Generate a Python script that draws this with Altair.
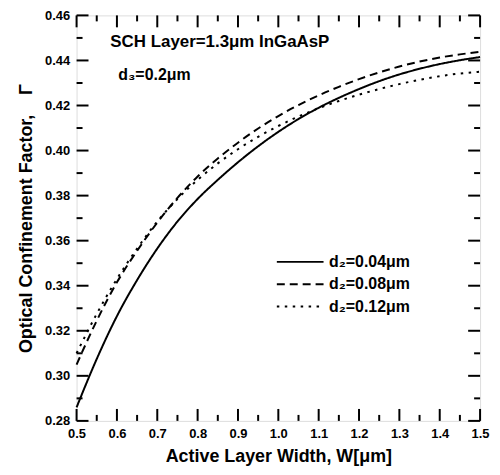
import altair as alt
import pandas as pd

# ---- data ----
W = [0.50, 0.55, 0.60, 0.65, 0.70, 0.75, 0.80, 0.85, 0.90, 0.95, 1.00,
     1.05, 1.10, 1.15, 1.20, 1.25, 1.30, 1.35, 1.40, 1.45, 1.50]
gamma_d2_004 = [0.286, 0.3075, 0.3265, 0.3425, 0.3565, 0.3685, 0.3785, 0.3870, 0.3948, 0.4019, 0.4083,
                0.4140, 0.4190, 0.4234, 0.4273, 0.4308, 0.4338, 0.4363, 0.4384, 0.4401, 0.4415]
gamma_d2_008 = [0.305, 0.3245, 0.3415, 0.3555, 0.3680, 0.3790, 0.3885, 0.3965, 0.4035, 0.4098, 0.4153,
                0.4202, 0.4245, 0.4283, 0.4317, 0.4347, 0.4373, 0.4395, 0.4413, 0.4427, 0.4438]
gamma_d2_012 = [0.310, 0.3275, 0.3430, 0.3565, 0.3685, 0.3785, 0.3870, 0.3943, 0.4006, 0.4061, 0.4109,
                0.4151, 0.4188, 0.4220, 0.4248, 0.4273, 0.4295, 0.4314, 0.4330, 0.4342, 0.4350]
series_labels = ["d\u2082=0.04\u03bcm", "d\u2082=0.08\u03bcm", "d\u2082=0.12\u03bcm"]
series_dashes = [[1, 0], [8, 5], [2.5, 5.5]]

x_major = [0.5, 0.6, 0.7, 0.8, 0.9, 1.0, 1.1, 1.2, 1.3, 1.4, 1.5]
x_minor = [0.55, 0.65, 0.75, 0.85, 0.95, 1.05, 1.15, 1.25, 1.35, 1.45]
y_major = [0.28, 0.30, 0.32, 0.34, 0.36, 0.38, 0.40, 0.42, 0.44, 0.46]
y_minor = [0.29, 0.31, 0.33, 0.35, 0.37, 0.39, 0.41, 0.43, 0.45]

annot_1 = "SCH Layer=1.3\u03bcm InGaAsP"
annot_2 = "d\u2083=0.2\u03bcm"

FONT = "Liberation Sans"
PW, PH = 406, 408

rows = []
for lab, vals in zip(series_labels, [gamma_d2_004, gamma_d2_008, gamma_d2_012]):
    for w, g in zip(W, vals):
        rows.append({"W": w, "G": g, "series": lab})
df = pd.DataFrame(rows)

xs = alt.Scale(domain=[0.5, 1.5], nice=False, zero=False)
ys = alt.Scale(domain=[0.28, 0.46], nice=False, zero=False)

lines = alt.Chart(df).mark_line(color="black", strokeWidth=2, interpolate="monotone").encode(
    x=alt.X("W:Q", scale=xs,
            axis=alt.Axis(values=x_major, format=".1f", tickSize=0, domain=False, grid=False,
                          labelFont=FONT, labelFontWeight="bold", labelFontSize=13,
                          labelColor="black", labelPadding=7, labelFlush=False,
                          title="Active Layer Width, W[\u03bcm]", titleFont=FONT,
                          titleFontSize=18, titleFontWeight="bold", titleColor="black",
                          titlePadding=7)),
    y=alt.Y("G:Q", scale=ys,
            axis=alt.Axis(values=y_major, format=".2f", tickSize=0, domain=False, grid=False,
                          labelFont=FONT, labelFontWeight="bold", labelFontSize=13,
                          labelColor="black", labelPadding=7, labelFlush=False,
                          title="Optical Confinement Factor,\u00a0\u00a0\u00a0\u00a0\u0393",
                          titleFont=FONT, titleFontSize=18, titleFontWeight="bold",
                          titleColor="black", titlePadding=9)),
    strokeDash=alt.StrokeDash(
        "series:N",
        scale=alt.Scale(domain=series_labels, range=series_dashes),
        sort=series_labels,
        legend=alt.Legend(orient="none", legendX=214, legendY=237, title=None, padding=0,
                          symbolType="M-2.35,0H2.35", symbolSize=400, symbolStrokeWidth=2,
                          symbolStrokeColor="black", labelOffset=18,
                          labelFont=FONT, labelFontSize=16, labelFontWeight="bold",
                          labelColor="black", rowPadding=3.5)),
)

def xticks(vals, length):
    d = pd.DataFrame({"v": vals})
    bottom = alt.Chart(d).mark_tick(color="black", thickness=2, size=length, orient="vertical",
                                    opacity=1).encode(
        x=alt.X("v:Q", scale=xs), y=alt.value(PH - length / 2))
    top = alt.Chart(d).mark_tick(color="black", thickness=2, size=length, orient="vertical",
                                 opacity=1).encode(
        x=alt.X("v:Q", scale=xs), y=alt.value(length / 2))
    return [bottom, top]

def yticks(vals, length):
    d = pd.DataFrame({"v": vals})
    left = alt.Chart(d).mark_tick(color="black", thickness=2, size=length, orient="horizontal",
                                  opacity=1).encode(
        y=alt.Y("v:Q", scale=ys), x=alt.value(length / 2))
    right = alt.Chart(d).mark_tick(color="black", thickness=2, size=length, orient="horizontal",
                                   opacity=1).encode(
        y=alt.Y("v:Q", scale=ys), x=alt.value(PW - length / 2))
    return [left, right]

tick_layers = xticks(x_major, 12) + xticks(x_minor, 6) + yticks(y_major, 12) + yticks(y_minor, 6)

t1 = alt.Chart(pd.DataFrame({"t": [annot_1]})).mark_text(
    font=FONT, fontSize=17, fontWeight="bold", align="left", baseline="alphabetic", color="black"
).encode(text="t:N", x=alt.value(34), y=alt.value(32))
t2 = alt.Chart(pd.DataFrame({"t": [annot_2]})).mark_text(
    font=FONT, fontSize=16, fontWeight="bold", align="left", baseline="alphabetic", color="black"
).encode(text="t:N", x=alt.value(42), y=alt.value(65))

chart = alt.layer(lines, *tick_layers, t1, t2).properties(
    width=PW, height=PH,
    autosize=alt.AutoSizeParams(type="none"),
    padding={"left": 69, "top": 6, "right": 12, "bottom": 52},
).configure_view(stroke="black", strokeWidth=2.5).configure(background="white")

chart.save("out.html", embed_options={"renderer": "svg", "actions": False})
